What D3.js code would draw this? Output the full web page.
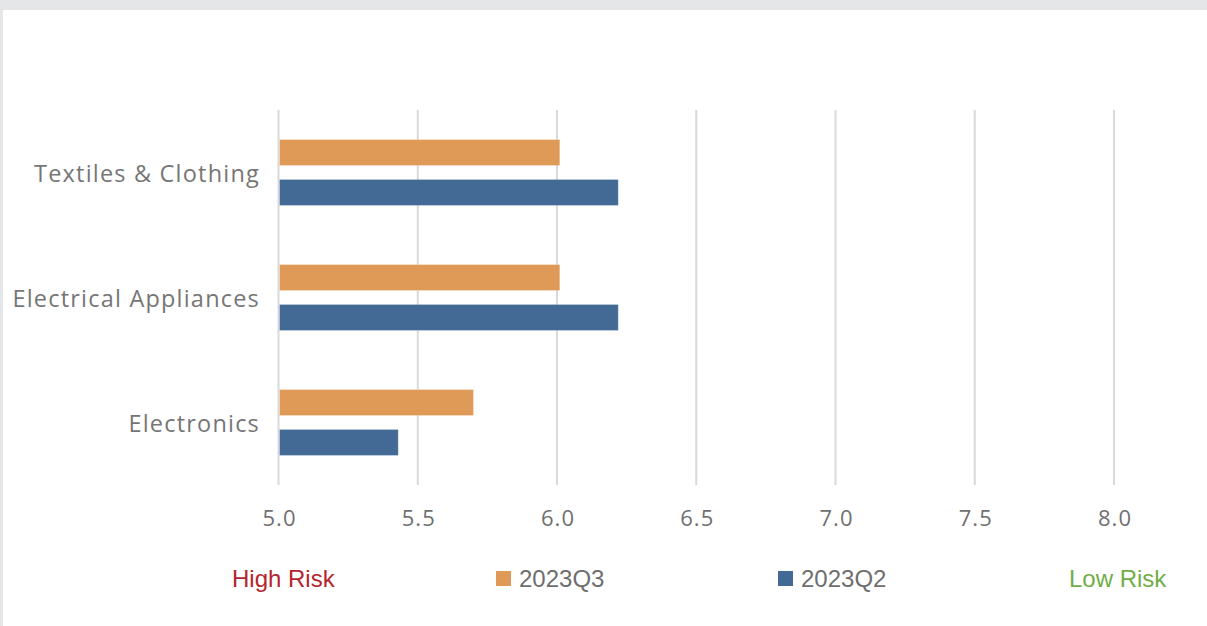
<!DOCTYPE html>
<html>
<head>
<meta charset="utf-8">
<script src="https://cdn.jsdelivr.net/npm/d3@7"></script>
<style>
  html, body { margin: 0; padding: 0; background: #fff; }
  svg { display: block; }
</style>
</head>
<body>
<script>
// Sector risk scores by quarter
const categories = ["Textiles & Clothing", "Electrical Appliances", "Electronics"];
const seriesNames = ["2023Q3", "2023Q2"];
const values2023Q3 = [6.01, 6.01, 5.70];
const values2023Q2 = [6.22, 6.22, 5.43];
const xTicks = [5.0, 5.5, 6.0, 6.5, 7.0, 7.5, 8.0];
const riskLabels = ["High Risk", "Low Risk"];

const W = 1207, H = 626;
const colors = { "2023Q3": "#e09a58", "2023Q2": "#426a94" };

const svg = d3.select("body").append("svg").attr("width", W).attr("height", H);

// page frame
svg.append("rect").attr("x", 0).attr("y", 0).attr("width", W).attr("height", H).attr("fill", "#fff");
svg.append("rect").attr("x", 0).attr("y", 0).attr("width", W).attr("height", 10).attr("fill", "#e5e6e8");
svg.append("rect").attr("x", 0).attr("y", 10).attr("width", 3).attr("height", H - 10).attr("fill", "#e5e6e8");

const x = d3.scaleLinear().domain([5, 8]).range([278.5, 1114]);
const y = d3.scaleBand().domain(categories).range([110, 485]);
const ySeries = d3.scaleBand().domain(seriesNames).range([0, y.bandwidth()])
  .paddingInner(0.35).paddingOuter(0.74);

// vertical gridlines
svg.append("g").selectAll("line").data(xTicks).join("line")
  .attr("x1", d => x(d)).attr("x2", d => x(d))
  .attr("y1", 110).attr("y2", 485)
  .attr("stroke", "#d9d9d9").attr("stroke-width", 2);

// bars
const rows = categories.map((c, i) => ({
  cat: c,
  items: [
    { s: "2023Q3", v: values2023Q3[i] },
    { s: "2023Q2", v: values2023Q2[i] }
  ]
}));

const g = svg.append("g").selectAll("g").data(rows).join("g")
  .attr("transform", d => `translate(0,${y(d.cat)})`);

g.selectAll("rect").data(d => d.items).join("rect")
  .attr("x", x(5) + 1)
  .attr("y", d => ySeries(d.s))
  .attr("width", d => x(d.v) - x(5) - 1)
  .attr("height", ySeries.bandwidth())
  .attr("fill", d => colors[d.s])
  .attr("stroke", "#ffffff").attr("stroke-opacity", 0.25).attr("stroke-width", 1);

// category labels
svg.append("g").selectAll("text").data(categories).join("text")
  .attr("x", 260)
  .attr("y", d => y(d) + y.bandwidth() / 2 + 9)
  .attr("text-anchor", "end")
  .attr("font-family", "'Open Sans', sans-serif")
  .attr("font-size", 23.5)
  .attr("letter-spacing", 1.2)
  .attr("fill", "#767676")
  .text(d => d);

// x axis tick labels
const xAxis = d3.axisBottom(x).tickValues(xTicks).tickFormat(d3.format(".1f")).tickSize(0).tickPadding(0);
const axG = svg.append("g").attr("transform", "translate(0,510)").call(xAxis);
axG.select(".domain").remove();
axG.selectAll("text")
  .attr("font-family", "'Open Sans', sans-serif")
  .attr("font-size", 22)
  .attr("letter-spacing", 1)
  .attr("dx", 0.5)
  .attr("fill", "#707070")
  .attr("dy", "0.71em");

// legend
const font = "'Liberation Sans', Arial, sans-serif";
svg.append("text").attr("x", 232).attr("y", 587)
  .attr("font-family", font).attr("font-size", 24).attr("fill", "#b5252d")
  .text(riskLabels[0]);
svg.append("text").attr("x", 1069).attr("y", 587)
  .attr("font-family", font).attr("font-size", 24).attr("fill", "#70ad47")
  .text(riskLabels[1]);

const legendX = { "2023Q3": 496, "2023Q2": 778 };
const lg = svg.append("g").selectAll("g").data(seriesNames).join("g")
  .attr("transform", d => `translate(${legendX[d]},0)`);
lg.append("rect").attr("x", 0).attr("y", 571).attr("width", 15).attr("height", 15)
  .attr("fill", d => colors[d]);
lg.append("text").attr("x", 23).attr("y", 587)
  .attr("font-family", font).attr("font-size", 24).attr("fill", "#6e6e6e")
  .text(d => d);
</script>
</body>
</html>
